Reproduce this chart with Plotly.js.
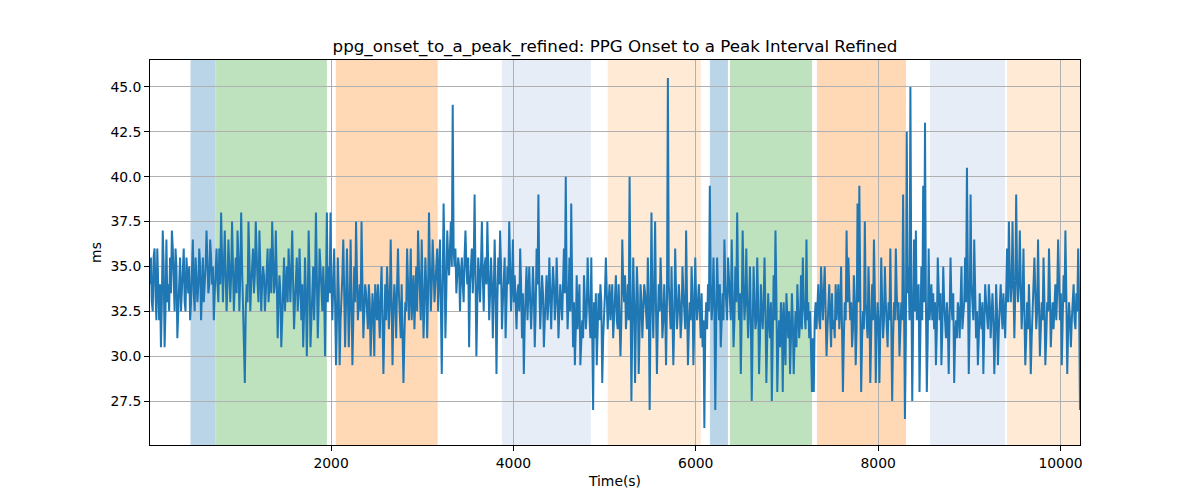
<!DOCTYPE html>
<html>
<head>
<meta charset="utf-8">
<script src="https://cdn.plot.ly/plotly-3.0.1.min.js"></script>
<style>
  html, body { margin: 0; padding: 0; background: #fff; }
  #chart { width: 1200px; height: 500px; }
</style>
</head>
<body>
<div id="chart"></div>
<script>
// sampling of the interval series (seconds)
const t0 = 14;
const dt = 10;

// PPG onset to a-peak interval, ms, samples at t0, t0+20, ...
const ms = [
  34, 33, 35.5, 33.5, 36, 32, 30.5, 37, 30.5, 36.5, 34, 35.5, 37, 34.5, 36, 31, 34, 32.5, 35, 33, 35.5, 33.5, 32, 35.5, 33.5,
  35.5, 33, 36, 32, 35.5, 34, 37, 33.5, 36.5, 34, 32, 35, 34, 36, 38, 33, 37, 32.5, 36.5, 33, 37.5, 32.5, 35.5, 37, 32.5,
  38, 33, 28.5, 34, 37.5, 32.5, 35.5, 33.5, 37.5, 34, 37, 32.5, 35, 32.5, 35.5, 33, 36, 37.5, 33.5, 37, 31, 34.5, 30.5, 34, 32.5,
  35, 36, 33, 37, 31.5, 34, 32.5, 36, 32, 30.5, 35.5, 30, 37, 30.5, 34, 32, 38, 31, 36, 33.5, 35, 30, 38, 35, 38,
  32, 36, 29.5, 35.5, 29.5, 33, 36.5, 30.5, 36, 30.5, 36.5, 29.5, 35, 37.5, 32, 34, 37.5, 31, 34, 32.5, 34, 30, 33.5, 30, 33,
  34, 31, 35, 29, 34, 35, 31.5, 36.5, 29.5, 34, 31, 36, 32, 34, 28.5, 33, 36, 32, 36, 33.5, 31.5, 35, 37, 33, 36.5,
  31, 35.5, 31, 38, 32.5, 36.5, 33, 35, 32.5, 36.5, 29, 38.5, 31, 37, 34.5, 37.5, 44, 35, 33.5, 35.5, 32.5, 35.5, 33, 37, 34,
  30.5, 35.5, 33.5, 39, 30, 35.5, 33, 37.5, 32.5, 35.5, 37.5, 32, 35.5, 31, 36.5, 29, 35.5, 37, 31.5, 34, 31, 35, 37.5, 32.5, 36.5,
  34.5, 31.5, 34, 36, 31, 29, 34, 32, 35, 31.5, 35, 30.5, 36, 39, 31.5, 34.5, 30.5, 34, 32, 35.5, 31.5, 35, 32, 35.5, 31,
  34, 32, 36, 40, 31.5, 35.5, 38.5, 30.5, 29.5, 34.5, 33, 29.5, 32, 34.5, 31.5, 35.5, 32, 35.5, 27, 31, 29.5, 33.5, 34, 28.5, 32,
  35.5, 31.5, 34, 33, 31, 33.5, 32, 34, 30, 36.5, 33, 31.5, 34, 40, 27.5, 35.5, 28.5, 35, 29, 34, 31, 34, 32, 35.5, 27,
  38, 31, 37.5, 29, 34, 35.5, 31, 34, 29.5, 45.5, 33, 35, 29.5, 36, 31.5, 34, 31, 35, 32, 37, 29.5, 33, 35, 29.5, 35.5,
  32, 34, 31, 30.5, 26, 33, 34, 39.5, 32, 35.5, 27, 35.5, 32, 30.5, 33.5, 36.5, 32.5, 35.5, 33, 36.5, 30.5, 35, 38, 32, 29,
  37, 32, 36, 31, 35, 27.5, 35, 31.5, 35.5, 29, 34, 31.5, 35.5, 28.5, 33.5, 31, 27.5, 34.5, 37, 28, 32, 33, 28, 31, 33.5,
  31, 29, 33.5, 29, 32.5, 34, 31, 34.5, 35.5, 32, 36.5, 33, 32.5, 28, 28, 33, 33.5, 32, 35, 32, 35, 30, 33, 32, 33.5,
  32, 34, 33, 31.5, 35, 28, 33, 37, 35.5, 32, 30.5, 34.5, 29.5, 38.5, 39.5, 28, 32.5, 37.5, 32, 35, 28.5, 34, 36.5, 28.5, 33,
  28.5, 35.5, 31, 35, 31.5, 33, 36, 27.5, 33, 36, 32, 30, 33, 39, 26.5, 42.5, 35, 45, 27.5, 36.5, 37, 33, 28, 35, 39.5,
  43, 28, 36, 33, 32, 31.5, 29.5, 35.5, 32, 29.5, 35, 32, 33, 29, 35.5, 32, 28.5, 32, 33, 31, 35, 32.5, 35.5, 40.5, 29,
  39, 33, 36.5, 31, 29.5, 33.5, 31.5, 29, 34, 32, 34, 31, 33.5, 29, 34, 29.5, 33, 32.5, 33.5, 31, 36, 37.5, 33, 37.5, 31,
  39, 33, 37, 31.5, 36, 29.5, 33, 34, 29, 32.5, 35.5, 31.5, 36.5, 30, 33, 35.5, 29.5, 33, 36, 30.5, 33, 33.5, 32, 36.5, 32,
  29.5, 34.5, 37, 29, 33, 30.5, 33.5, 32, 33.5, 36, 27
];

// samples in between (at t0+10, t0+30, ...)
const msMid = [
  35.5, 32.5, 36, 32, 34.5, 34, 33, 35, 32.5, 33, 32.5, 33.5, 36, 32.5, 35, 32.5, 35.5, 33.5, 36, 32.5, 34.5, 35, 33, 36.5, 32.5,
  34.5, 34, 35, 33.5, 33, 35, 35.5, 34, 35.5, 35, 33.5, 36, 33, 34, 35.5, 35, 34.5, 34, 35, 34.5, 35, 34, 33.5, 35.5, 34.5,
  35, 32, 32.5, 33, 35.5, 34, 36, 34.5, 35, 33, 35, 34, 34.5, 33.5, 36, 34, 33.5, 35.5, 34, 34.5, 33, 33.5, 32, 35.5, 33.5,
  33, 34.5, 35, 34, 33, 35.5, 33.5, 34, 34, 32.5, 33.5, 33, 34.5, 32, 35, 34, 33.5, 33, 35, 32.5, 33.5, 34, 33, 33.5, 34,
  34, 33, 32, 33.5, 32, 34.5, 34, 33, 33.5, 32.5, 33.5, 32, 33, 34.5, 33, 32.5, 34, 32.5, 33.5, 31.5, 33, 31.5, 32.5, 34, 32,
  32.5, 33.5, 32, 31.5, 32, 33.5, 33, 33, 32.5, 33, 34, 33.5, 31, 32, 31, 32.5, 34, 33.5, 32, 34.5, 33, 32.5, 35, 32, 34,
  33, 34, 33.5, 35, 34, 35, 34, 36, 34, 33, 34, 35.5, 33.5, 35.5, 36, 35, 36, 36, 34.5, 35, 34.5, 34, 35.5, 35, 35.5,
  34, 36, 35, 35.5, 33, 34.5, 35, 34.5, 35, 34, 35, 33.5, 34, 33.5, 34, 33, 34, 35, 33, 35.5, 33, 34, 35, 34, 33,
  33, 33.5, 32.5, 34, 33.5, 32, 35, 33.5, 33, 33, 33.5, 32.5, 34, 34, 33, 33.5, 32, 34.5, 33, 34, 33.5, 34, 33, 33.5, 32.5,
  33, 34, 33.5, 34, 33, 32.5, 34, 33, 31.5, 31.5, 34, 31, 31, 33, 32.5, 33.5, 31, 32, 33, 33.5, 31.5, 32, 33, 31, 33.5,
  33, 33, 32, 34, 32, 34.5, 31.5, 32.5, 32, 34, 34.5, 32.5, 32, 33.5, 32, 33, 32, 33.5, 31.5, 33, 32.5, 33.5, 31.5, 33, 32.5,
  33, 34, 32.5, 32, 32.5, 33.5, 32, 32.5, 33, 34, 31.5, 33, 32, 33.5, 32.5, 33, 32, 33.5, 31.5, 33, 31.5, 32, 33.5, 32, 33,
  33, 32.5, 33.5, 32, 31.5, 31.5, 32.5, 34, 33, 33, 32, 33.5, 34, 32, 32, 34, 32, 34.5, 32, 33.5, 32, 33, 34, 33.5, 32.5,
  34, 33, 33, 32.5, 32, 31.5, 33, 32, 33, 31, 32.5, 33, 32.5, 31, 32, 33, 31, 32, 33.5, 30.5, 30.5, 32, 33, 29.5, 32,
  32.5, 31, 32, 31, 30.5, 32.5, 32, 31.5, 33, 31.5, 32, 31, 30.5, 31, 32, 31.5, 34, 31.5, 33, 33.5, 32.5, 31.5, 34, 30.5, 31.5,
  31, 32, 34, 32.5, 32, 31, 32, 33, 33.5, 33, 31.5, 33, 31.5, 33, 33.5, 31, 31.5, 33, 31, 33, 31, 32, 33.5, 31.5, 32,
  31.5, 33, 32, 33, 30.5, 32, 32.5, 31, 32, 33.5, 33, 31.5, 32, 33, 31, 33.5, 32, 34, 32, 32.5, 32, 34, 31, 32, 33,
  33, 31, 32, 34, 33.5, 33, 31.5, 33, 33.5, 31.5, 33, 31, 32, 31.5, 33, 33.5, 31, 31, 32.5, 33, 31.5, 33, 33, 33.5, 32,
  34, 32, 33, 32.5, 31, 32, 33, 31.5, 33, 31.5, 33, 32, 32, 31, 32.5, 31.5, 34, 31.5, 32.5, 33.5, 33, 34.5, 34, 34, 33.5,
  34.5, 34, 34, 33, 32.5, 31, 31.5, 32, 31, 33, 33.5, 32.5, 33, 31.5, 32, 33, 31, 32.5, 33.5, 32, 31.5, 34, 33.5, 33, 33.5,
  32, 33, 33.5, 31.5, 32, 32, 34, 31.5, 32.5, 33
];

// shaded segments
const bandStart = [464, 740, 2058, 3878, 5040, 6160, 6380, 7334, 8575, 9420];
const bandEnd   = [727, 1948, 3163, 4843, 6050, 6347, 7270, 8300, 9386, 10214];
const bandColor = ['#1f77b4', '#2ca02c', '#ff7f0e', '#aec7e8', '#ffbb78',
                   '#1f77b4', '#2ca02c', '#ff7f0e', '#aec7e8', '#ffbb78'];

const yTicks = [27.5, 30, 32.5, 35, 37.5, 40, 42.5, 45];
const xTicks = [2000, 4000, 6000, 8000, 10000];

// merge the two sample sets in time order
const y = [];
ms.forEach((v, i) => {
    y.push(v);
    if (i < msMid.length) y.push(msMid[i]);
});
const tEnd = t0 + dt * (y.length - 1);

const shapes = bandStart.map((s, i) => ({
    type: 'rect',
    xref: 'x',
    yref: 'paper',
    x0: s,
    x1: bandEnd[i],
    y0: 0,
    y1: 1,
    fillcolor: bandColor[i],
    opacity: 0.3,
    line: { color: bandColor[i], width: 1 },
    layer: 'below'
}));

const trace = {
    type: 'scatter',
    mode: 'lines',
    x0: t0,
    dx: dt,
    y: y,
    line: { color: '#1f77b4', width: 2 },
    hoverinfo: 'x+y'
};

const font = { family: 'DejaVu Sans, sans-serif', size: 13.9, color: '#000' };

const layout = {
    width: 1200,
    height: 500,
    paper_bgcolor: '#fff',
    plot_bgcolor: '#fff',
    font: font,
    margin: { l: 150, r: 120, t: 60, b: 55 },
    showlegend: false,
    title: {
        text: 'ppg_onset_to_a_peak_refined: PPG Onset to a Peak Interval Refined',
        font: { family: 'DejaVu Sans, sans-serif', size: 16.7, color: '#000' },
        xref: 'paper',
        x: 0.5,
        xanchor: 'center',
        yref: 'container',
        y: 0.908,
        yanchor: 'middle'
    },
    xaxis: {
        range: [t0, tEnd],
        tickvals: xTicks,
        ticktext: xTicks.map(String),
        ticks: 'outside',
        ticklen: 4.9,
        tickcolor: '#000',
        showline: true,
        linecolor: '#000',
        linewidth: 1,
        mirror: true,
        showgrid: true,
        gridcolor: '#b0b0b0',
        gridwidth: 1,
        zeroline: false,
        title: { text: 'Time(s)', font: font, standoff: 6 }
    },
    yaxis: {
        range: [25.05, 46.5],
        tickvals: yTicks,
        ticktext: yTicks.map(v => v.toFixed(1)),
        ticks: 'outside',
        ticklen: 4.9,
        tickcolor: '#000',
        showline: true,
        linecolor: '#000',
        linewidth: 1,
        mirror: true,
        showgrid: true,
        gridcolor: '#b0b0b0',
        gridwidth: 1,
        zeroline: false,
        title: { text: 'ms', font: font, standoff: 5 }
    },
    shapes: shapes
};

Plotly.newPlot('chart', [trace], layout, { displayModeBar: false, staticPlot: true });
</script>
</body>
</html>
